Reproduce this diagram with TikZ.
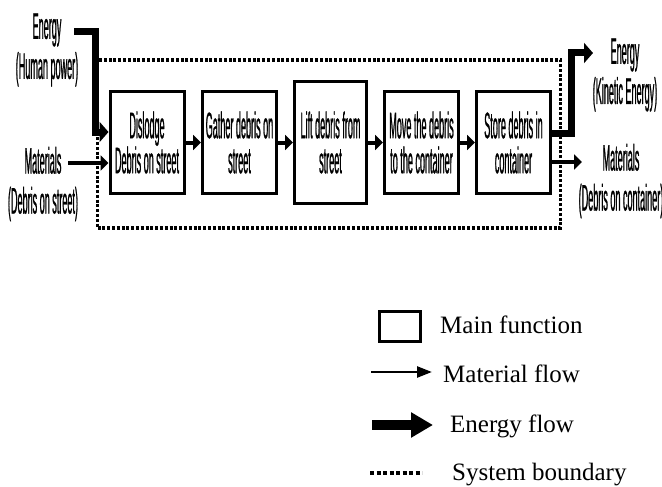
\documentclass[tikz,border=0pt]{standalone}
\usepackage{fontspec}
\setmainfont{Liberation Serif}
\newfontfamily\narrowsf{Liberation Sans}[FakeStretch=0.245,FakeBold=0.6]
\usetikzlibrary{arrows.meta,positioning}
\tikzset{
  fbox/.style={draw=black,fill=white,line width=3pt,minimum width=74pt,minimum height=102pt,
    align=center,font=\narrowsf\fontsize{37}{35}\selectfont,inner sep=2pt},
  lbl/.style={align=center,font=\narrowsf\fontsize{37}{40}\selectfont,inner sep=0pt},
  mflow/.style={-{Triangle[length=8pt,width=15pt]},line width=4pt},
  eflow/.style={-{Triangle[length=9pt,width=20pt]},line width=7pt},
  bnd/.style={draw=black,line width=3.5pt,dash pattern=on 3pt off 1.8pt},
  lmflow/.style={-{Triangle[length=15pt,width=11pt]},line width=2.5pt},
  leflow/.style={-{Triangle[length=22pt,width=24pt]},line width=10pt},
  leg/.style={font=\fontsize{25}{30}\selectfont,anchor=base west,inner sep=0pt}
}
\begin{document}
\begin{tikzpicture}[x=1pt,y=-1pt]
  \useasboundingbox (0,0) rectangle (662,487);
  % system boundary
  \node[bnd,minimum width=463pt,minimum height=168pt] (sysb) at (329,144) {};
  % main functions
  \node[fbox] (dis) at (147,142.5) {Dislodge\\Debris on street};
  \node[fbox] (gat) at (239.5,142.5) {Gather debris on\\street};
  \node[fbox,minimum width=72pt,minimum height=121pt] (lif) at (330.5,142.5) {Lift debris from\\street};
  \node[fbox] (mov) at (421.5,142.5) {Move the debris\\to the container};
  \node[fbox] (sto) at (513.5,142.5) {Store debris in\\container};
  \foreach \a/\b in {dis/gat,gat/lif,lif/mov,mov/sto}{\draw[mflow] (\a) -- (\b);}
  % inputs
  \node[lbl] (einl) at (47,50) {Energy\\(Human power)};
  \node[lbl] (minl) at (43,184) {Materials\\(Debris on street)};
  \coordinate (ein) at (74,32);
  \coordinate (ebend) at (95,132);
  \draw[eflow] (ein) -| (ebend) -- (ebend -| dis.west);
  \coordinate (min) at (68,163);
  \draw[mflow] (min) -- (min -| dis.west);
  % outputs
  \node[lbl] (eoutl) at (625,75) {Energy\\(Kinetic Energy)};
  \node[lbl] (moutl) at (621,181) {Materials\\(Debris on container)};
  \coordinate (eout) at (571,133);
  \coordinate (eend) at (593,53);
  \draw[eflow] (eout -| sto.east) -- (eout) |- (eend);
  \coordinate (mout) at (582,162);
  \draw[mflow] (mout -| sto.east) -- (mout);
  % legend
  \node[fbox,minimum width=41pt,minimum height=30pt] (lbox) at (400,326.5) {};
  \node[leg] (lboxt) at (440,333) {Main function};
  \coordinate (lmA) at (371,372);
  \coordinate (lmB) at (432,372);
  \draw[lmflow] (lmA) -- (lmB);
  \node[leg] (lmt) at (443,382) {Material flow};
  \coordinate (leA) at (372,425);
  \coordinate (leB) at (433,425);
  \draw[leflow] (leA) -- (leB);
  \node[leg] (let) at (450,432) {Energy flow};
  \coordinate (lbA) at (370,473);
  \coordinate (lbB) at (422,473);
  \draw[bnd,dash pattern=on 4pt off 2.5pt] (lbA) -- (lbB);
  \node[leg] (lbt) at (452,480) {System boundary};
\end{tikzpicture}
\end{document}
